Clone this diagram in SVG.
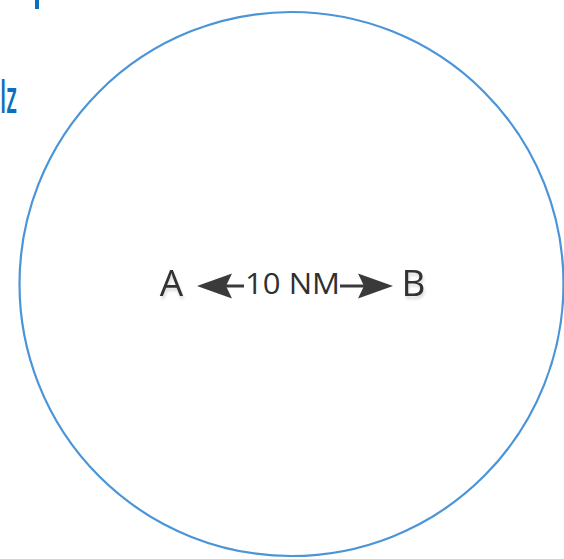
<svg xmlns="http://www.w3.org/2000/svg" width="564" height="559" viewBox="0 0 564 559">
  <defs>
    <style>
      .ring { fill: none; stroke: #4a94d8; stroke-width: 2.2; }
      .blue { fill: #0a6fbe; font-family: "Open Sans", "Liberation Sans", sans-serif; font-weight: 600; }
      .lbl { fill: #303030; font-family: "Open Sans", "Liberation Sans", sans-serif; }
      .arrow { stroke: #3a3a3a; stroke-width: 3; fill: none; }
      .head { fill: #3a3a3a; }
    </style>
    <filter id="sh" x="-20%" y="-20%" width="140%" height="160%">
      <feDropShadow dx="1" dy="3" stdDeviation="1.5" flood-color="#000" flood-opacity="0.15"/>
    </filter>
  </defs>
  <rect width="564" height="559" fill="#ffffff"/>
  <g id="fragment-top">
    <rect x="35" y="0" width="4" height="9" fill="#0a6fbe"/>
  </g>
  <g id="fragment-left">
    <text class="blue" x="0" y="113" font-size="45" textLength="17" lengthAdjust="spacingAndGlyphs">lz</text>
  </g>
  <g id="range-circle">
    <circle class="ring" cx="291.5" cy="284" r="272"/>
  </g>
  <g id="node-a" filter="url(#sh)">
    <text class="lbl" x="171.5" y="295.5" font-size="37" text-anchor="middle">A</text>
  </g>
  <g id="node-b" filter="url(#sh)">
    <text class="lbl" x="413.5" y="295.5" font-size="37" text-anchor="middle">B</text>
  </g>
  <g id="connectors">
    <line class="arrow" x1="224" y1="286" x2="244" y2="286"/>
    <path class="head" d="M197,286 L232,273.5 L226,286 L232,298.5 Z"/>
    <line class="arrow" x1="340" y1="286" x2="366" y2="286"/>
    <path class="head" d="M393,286 L358,273.5 L364,286 L358,298.5 Z"/>
    <text class="lbl" x="245" y="293.5" font-size="30" textLength="95" lengthAdjust="spacingAndGlyphs">10 NM</text>
  </g>
</svg>
